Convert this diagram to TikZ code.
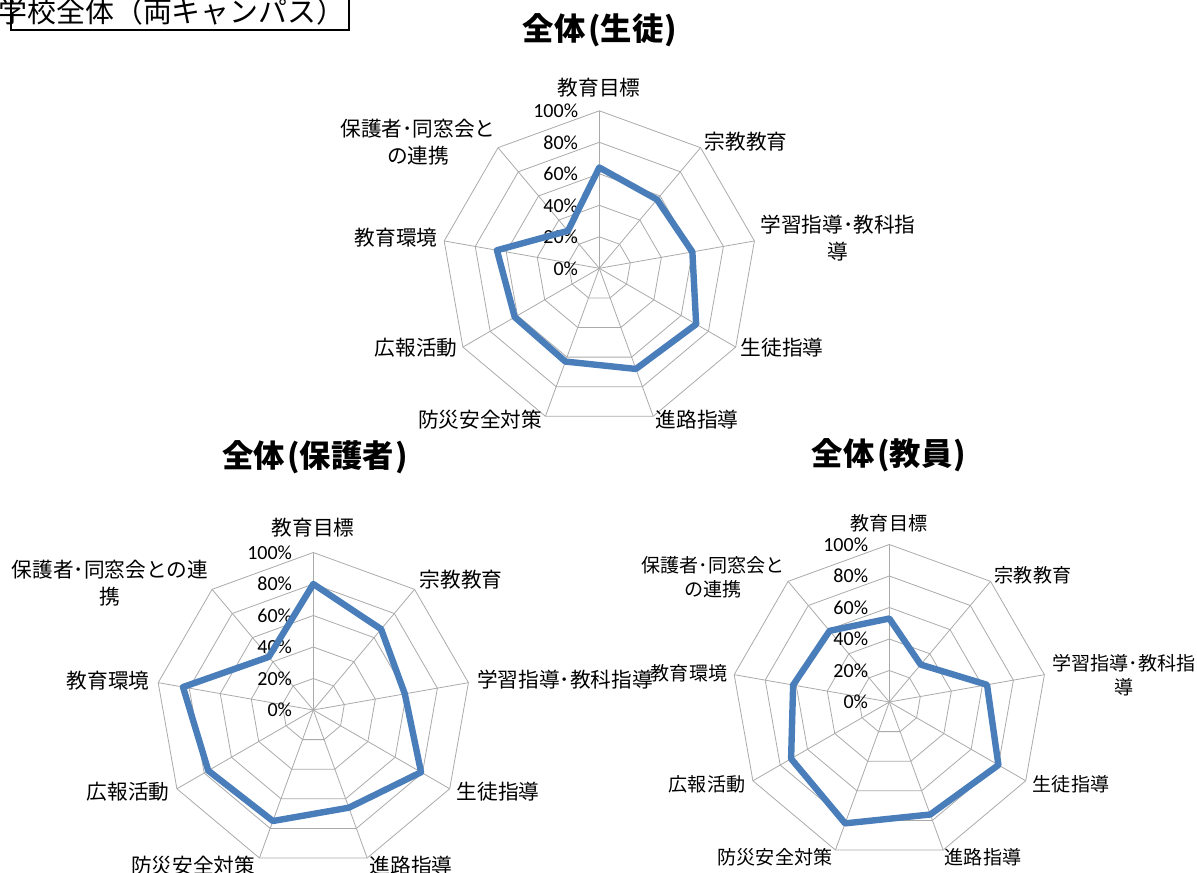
\documentclass[tikz,border=0pt]{standalone}
\usepackage{fontspec}
\setmainfont{Carlito}
\newfontfamily\jp{Noto Sans CJK JP}
\usepackage{xcolor}
\usepackage{tikz}

\definecolor{seriesblue}{RGB}{74,126,187}
\definecolor{gridgray}{RGB}{170,170,170}

\begin{document}
\begin{tikzpicture}
	[declare function={M = 157.5;}, x=0.75pt, y=0.75pt,
	 grid/.style={gridgray, line width=0.6pt},
	 series/.style={seriesblue, line width=4.8pt, line join=round},
	 pct/.style={anchor=east, inner sep=0pt, font=\fontsize{15}{18}\selectfont},
	 lab/.style={inner sep=0pt, align=center, font=\jp\fontsize{15.5}{20.6}\selectfont},
	 labsmall/.style={inner sep=0pt, align=center, font=\jp\fontsize{14.3}{18}\selectfont},
	 title/.style={inner sep=0pt, font=\jp\bfseries\fontsize{23.5}{28}\selectfont}]

	\useasboundingbox (0,0) rectangle (1197,-872);

	% frame
	\draw[line width=1.5pt] (11,4) rectangle (349,-30);
	\node[inner sep=0pt, font=\jp\fontsize{21.7}{26}\selectfont] (campus) at (172,-12) {学校全体（両キャンパス）};

	% webs and series
	\foreach \c/\cx/\cy/\vals in {A/599.3/268.3/{64,57,60,71,68,63,62,66,31},
	                              B/313.3/710/{80,67,59,79,66,75,77,84,44},
	                              C/889.3/702/{53,31,63,80,76,82,72,62,59}}{
		\begin{scope}[shift={(\cx,-\cy)}]
			\coordinate (\c) at (0,0);
			\foreach \r in {1,...,5}
				\draw[grid] (90:\r*M/5) \foreach \k in {1,...,8}{ -- (90-40*\k:\r*M/5)} -- cycle;
			\foreach \k in {0,...,8}
				\draw[grid] (\c) -- (90-40*\k:M);
			\foreach \r [evaluate=\r as \p using int(20*\r)] in {0,...,5}
				\node[pct] (\c-pct\p) at (-21,\r*M/5) {\p\%};
			\foreach \v [count=\k from 0] in \vals
				\coordinate (\c-v\k) at (90-40*\k:\v*M/100);
			\draw[series] (\c-v0) \foreach \k in {1,...,8}{ -- (\c-v\k)} -- cycle;
		\end{scope}
	}

	% titles
	\node[title] (A-title) at (600,-30) {全体\kern2pt(生徒\kern1pt)};
	\node[title] (B-title) at (315,-457) {全体\kern2pt(保護者\kern1pt)};
	\node[title] (C-title) at (889,-455) {全体\kern2pt(教員\kern1pt)};

	% labels (students)
	\node[lab] (A-l0) at (599,-88)  {教育目標};
	\node[lab] (A-l1) at (746,-142) {宗教教育};
	\node[lab] (A-l2) at (838,-238) {学習指導･教科指\\導};
	\node[lab] (A-l3) at (782,-348) {生徒指導};
	\node[lab] (A-l4) at (697,-420) {進路指導};
	\node[lab] (A-l5) at (480,-420) {防災安全対策};
	\node[lab] (A-l6) at (416,-348) {広報活動};
	\node[lab] (A-l7) at (396,-238) {教育環境};
	\node[lab] (A-l8) at (418,-142) {保護者･同窓会と\\の連携};

	% labels (parents)
	\node[lab] (B-l0) at (313,-528) {教育目標};
	\node[lab] (B-l1) at (461,-580) {宗教教育};
	\node[lab] (B-l2) at (565,-680) {学習指導･教科指導};
	\node[lab] (B-l3) at (498,-792) {生徒指導};
	\node[lab] (B-l4) at (411,-866) {進路指導};
	\node[lab] (B-l5) at (193,-866) {防災安全対策};
	\node[lab] (B-l6) at (128,-792) {広報活動};
	\node[lab] (B-l7) at (108,-681) {教育環境};
	\node[lab] (B-l8) at (110,-583) {保護者･同窓会との連\\携};

	% labels (teachers)
	\node[labsmall] (C-l0) at (889,-523)  {教育目標};
	\node[labsmall] (C-l1) at (1033,-575) {宗教教育};
	\node[labsmall] (C-l2) at (1124,-675) {学習指導･教科指\\導};
	\node[labsmall] (C-l3) at (1071,-784) {生徒指導};
	\node[labsmall] (C-l4) at (983,-857)  {進路指導};
	\node[labsmall] (C-l5) at (775,-857)  {防災安全対策};
	\node[labsmall] (C-l6) at (707,-784)  {広報活動};
	\node[labsmall] (C-l7) at (689,-673)  {教育環境};
	\node[labsmall] (C-l8) at (713,-577)  {保護者･同窓会と\\の連携};

\end{tikzpicture}
\end{document}
